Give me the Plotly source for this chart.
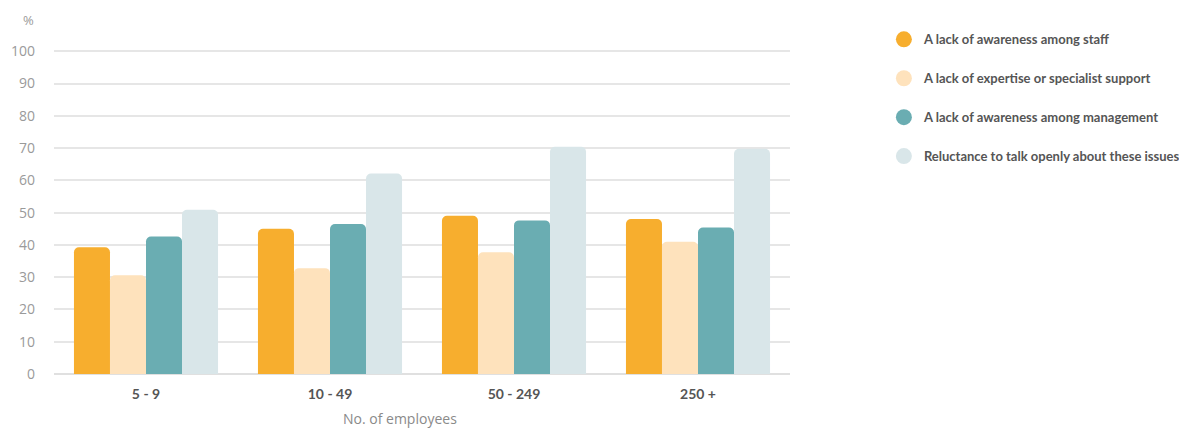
import plotly.graph_objects as go

categories = ["5 - 9", "10 - 49", "50 - 249", "250 +"]
series_names = [
    "A lack of awareness among staff",
    "A lack of expertise or specialist support",
    "A lack of awareness among management",
    "Reluctance to talk openly about these issues",
]
staff = [39.3, 45.0, 49.0, 48.0]
expertise = [30.6, 32.8, 37.7, 41.0]
management = [42.6, 46.5, 47.6, 45.4]
reluctance = [50.9, 62.1, 70.4, 69.8]
y_ticks = [0, 10, 20, 30, 40, 50, 60, 70, 80, 90, 100]

colors = ["#F7AE2E", "#FEE2BC", "#6AADB2", "#D9E6E9"]
series_values = [staff, expertise, management, reluctance]
COND = "Liberation Sans Narrow, Arial Narrow, Lato, sans-serif"

fig = go.Figure()
for name, vals, col in zip(series_names, series_values, colors):
    fig.add_trace(go.Bar(x=categories, y=vals, name=name, marker=dict(color=col, line=dict(width=0)),
                         showlegend=False))
for i, (name, col) in enumerate(zip(series_names, colors)):
    fig.add_trace(go.Scatter(x=[None], y=[None], mode="markers", name=f"<b>{name}</b>", legendgroup=f"g{i}",
                             marker=dict(symbol="circle", size=22, color=col)))

fig.update_layout(
    width=1179, height=428,
    margin=dict(l=54, r=389, t=50, b=54, autoexpand=False),
    paper_bgcolor="white", plot_bgcolor="white",
    barmode="group", bargap=0.217, bargroupgap=0, barcornerradius=5,
    showlegend=True,
    legend=dict(xref="container", yref="container", x=0.7497, y=0.943, xanchor="left", yanchor="top",
                font=dict(family=COND, size=13, color="#555555"),
                tracegroupgap=19, itemsizing="trace", bgcolor="rgba(0,0,0,0)"),
    font=dict(family="Open Sans, sans-serif"),
)
fig.update_yaxes(range=[0, 100.4], tickvals=y_ticks, showgrid=True, gridcolor="#E6E6E6", gridwidth=2,
                 zeroline=True, zerolinecolor="#E0E0E0", zerolinewidth=2,
                 tickfont=dict(size=14, color="#9A9A9A", family="Open Sans, sans-serif"),
                 ticks="", ticklabelstandoff=18, fixedrange=True)
fig.update_xaxes(showgrid=False, tickfont=dict(size=14, color="#555555", family=COND),
                 ticks="", ticklabelstandoff=10)
fig.update_xaxes(tickvals=categories, ticktext=[f"<b>{c}</b>" for c in categories])

fig.add_annotation(text="%", xref="paper", yref="paper", x=-0.035, y=1.093, showarrow=False,
                   xanchor="center", yanchor="middle", font=dict(size=13, color="#9A9A9A"))
fig.add_annotation(text="No. of employees", xref="paper", yref="paper", x=0.47, y=-0.137, showarrow=False,
                   xanchor="center", yanchor="middle", font=dict(size=14, color="#8A8A8A"))

fig.write_html("out.html")
